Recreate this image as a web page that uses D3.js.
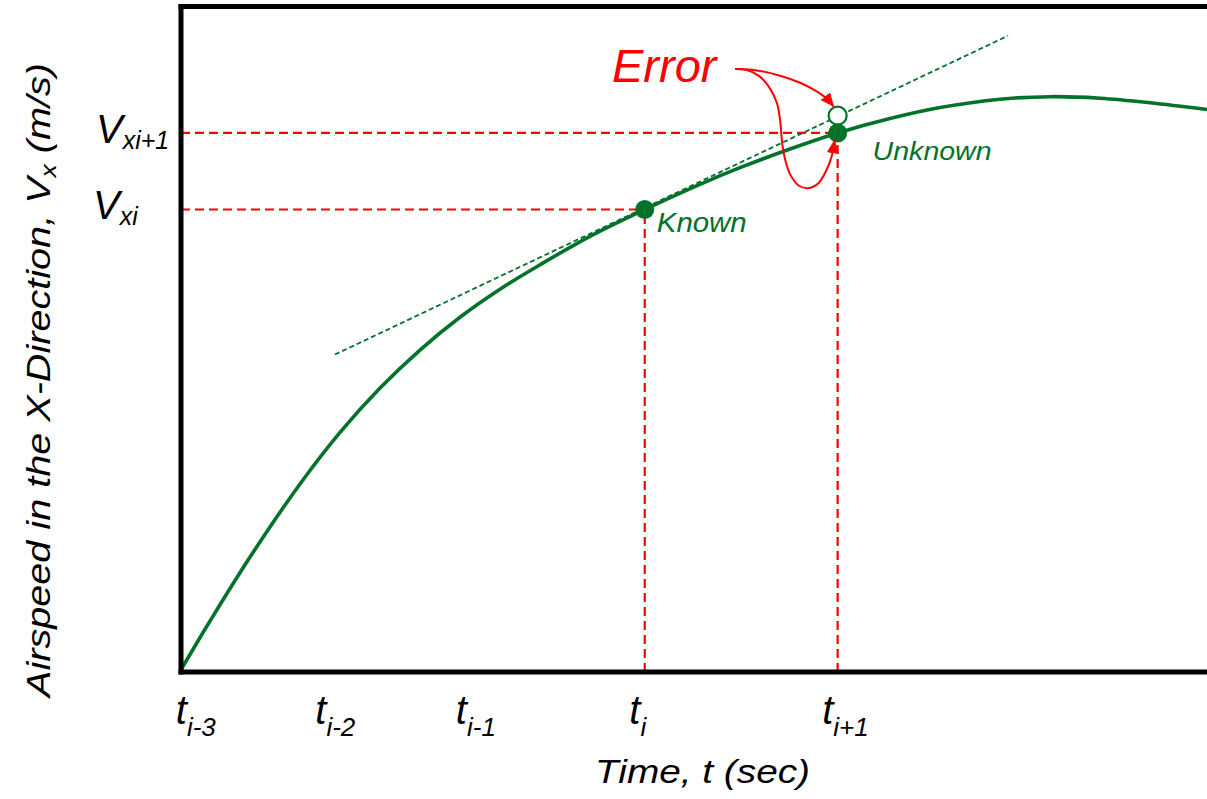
<!DOCTYPE html>
<html>
<head>
<meta charset="utf-8">
<script src="https://cdn.jsdelivr.net/npm/d3@7"></script>
<style>
  html, body { margin: 0; padding: 0; background: #fff; }
  svg { display: block; }
  text { font-family: "Liberation Sans", Arial, sans-serif; font-style: italic; }
</style>
</head>
<body>
<svg id="chart" width="1207" height="799"></svg>
<script>
// Airspeed curve V_x(t) (arbitrary units: time 0-100, speed 0-100)
const curveT = [0.1, 2.83, 6.73, 11.6, 15.5, 19.4, 23.29, 27.19, 31.09, 34.99, 39.86, 45.2,
                50.58, 54.48, 59.36, 64.0, 69.1, 73.98, 79.82, 84.7, 89.57, 94.44, 100];
const curveV = [0.6, 7.66, 17.28, 28.25, 36.0, 42.67, 48.38, 53.31, 57.52, 61.19, 65.47, 69.5,
                73.28, 75.78, 78.59, 81.0, 83.16, 84.81, 86.07, 86.45, 86.22, 85.54, 84.52];

// Time steps on the horizontal axis
const tickT = [1.0, 14.6, 28.3, 45.2, 64.0];
const tickSub = ["i-3", "i-2", "i-1", "i", "i+1"];

// Known point, exact unknown point, and the Euler prediction
const knownPt = {t: 45.2, v: 69.5};
const unknownPt = {t: 64.0, v: 81.0};
const predictedPt = {t: 64.0, v: 83.6};

// Tangent through the known point
const tangentT = [15.0, 80.6];
const tangentV = [47.7, 95.6];

// "Error" callout arrows
const arrowTopT = [54.0, 56.1, 58.4, 60.4, 62.0, 62.9, 63.6];
const arrowTopV = [90.6, 90.4, 89.6, 88.5, 87.2, 86.2, 85.0];
const arrowLowT = [54.0, 55.1, 56.4, 57.4, 58.1, 58.4, 58.6, 58.9, 59.4, 60.2, 61.1, 62.1, 62.9, 63.4, 63.7];
const arrowLowV = [90.6, 90.5, 89.5, 87.7, 85.4, 82.8, 79.4, 76.9, 74.7, 73.1, 72.7, 73.4, 75.4, 77.4, 79.9];

const GREEN = "#007229";
const RED = "#ff0000";

const svg = d3.select("#chart");
const plotLeft = 181, plotTop = 6.5, plotBottom = 672, plotRight = 1207;

const x = d3.scaleLinear().domain([0, 100]).range([plotLeft, plotRight]);
const y = d3.scaleLinear().domain([0, 100]).range([plotBottom, plotTop]);

const zip = (a, b) => a.map((d, i) => [d, b[i]]);

// Arrowhead marker
svg.append("defs").append("marker")
  .attr("id", "arrowhead")
  .attr("viewBox", "0 0 14 12")
  .attr("refX", 13).attr("refY", 6)
  .attr("markerWidth", 14).attr("markerHeight", 12)
  .attr("markerUnits", "userSpaceOnUse")
  .attr("orient", "auto")
  .append("path")
  .attr("d", "M0,0 L14,6 L0,12 Z")
  .attr("fill", RED);

// Red guide lines from the axes to the two points
const guides = svg.append("g")
  .attr("stroke", RED).attr("stroke-width", 2.2)
  .attr("stroke-dasharray", "9,5").attr("fill", "none");

guides.append("line")
  .attr("x1", x(0)).attr("x2", x(unknownPt.t) - 8)
  .attr("y1", y(unknownPt.v)).attr("y2", y(unknownPt.v));
guides.append("line")
  .attr("x1", x(0)).attr("x2", x(knownPt.t))
  .attr("y1", y(knownPt.v)).attr("y2", y(knownPt.v));
guides.append("line")
  .attr("x1", x(knownPt.t)).attr("x2", x(knownPt.t))
  .attr("y1", y(0)).attr("y2", y(knownPt.v));
guides.append("line")
  .attr("x1", x(unknownPt.t)).attr("x2", x(unknownPt.t))
  .attr("y1", y(0)).attr("y2", y(unknownPt.v));

// Tangent line (Euler step)
svg.append("path")
  .datum(zip(tangentT, tangentV))
  .attr("fill", "none")
  .attr("stroke", GREEN)
  .attr("stroke-width", 1.8)
  .attr("stroke-dasharray", "5,3")
  .attr("d", d3.line().x(d => x(d[0])).y(d => y(d[1])));

// Airspeed curve
svg.append("path")
  .datum(zip(curveT, curveV))
  .attr("fill", "none")
  .attr("stroke", GREEN)
  .attr("stroke-width", 3.6)
  .attr("d", d3.line().curve(d3.curveCatmullRom.alpha(0.5)).x(d => x(d[0])).y(d => y(d[1])));

// Axes (left and bottom) plus the top border
const xAxis = svg.append("g")
  .attr("transform", `translate(0,${plotBottom})`)
  .call(d3.axisBottom(x).tickValues(tickT).tickSize(0).tickFormat("").tickSizeOuter(0));
xAxis.select(".domain").attr("stroke", "#000").attr("stroke-width", 5)
  .attr("d", `M${plotLeft - 2.5},0H${plotRight + 5}`);

const yAxis = svg.append("g")
  .attr("transform", `translate(${plotLeft},0)`)
  .call(d3.axisLeft(y).tickValues([]).tickSizeOuter(0));
yAxis.select(".domain").attr("stroke", "#000").attr("stroke-width", 5)
  .attr("d", `M0,${plotBottom + 2.5}V${plotTop - 2.5}`);

svg.append("line")
  .attr("x1", plotLeft - 2.5).attr("x2", plotRight + 5)
  .attr("y1", y(100)).attr("y2", y(100))
  .attr("stroke", "#000").attr("stroke-width", 5);

// Tick labels t_i
xAxis.selectAll(".tick").each(function(d, i) {
  const t = d3.select(this).append("text")
    .attr("x", -16).attr("y", 52)
    .attr("text-anchor", "start")
    .attr("fill", "#000")
    .attr("font-size", 40);
  t.append("tspan").text("t");
  t.append("tspan").attr("font-size", 26).attr("dy", 12).text(tickSub[i]);
});

// Points
svg.append("circle")
  .attr("cx", x(predictedPt.t)).attr("cy", y(predictedPt.v)).attr("r", 9)
  .attr("fill", "#fff").attr("stroke", GREEN).attr("stroke-width", 2.2);
svg.selectAll("circle.pt")
  .data([knownPt, unknownPt])
  .join("circle")
  .attr("class", "pt")
  .attr("cx", d => x(d.t)).attr("cy", d => y(d.v)).attr("r", 9.5)
  .attr("fill", GREEN);

// Error callout arrows
const arrowLine = d3.line().curve(d3.curveCatmullRom).x(d => x(d[0])).y(d => y(d[1]));
svg.selectAll("path.arrow")
  .data([zip(arrowTopT, arrowTopV), zip(arrowLowT, arrowLowV)])
  .join("path")
  .attr("class", "arrow")
  .attr("fill", "none")
  .attr("stroke", RED)
  .attr("stroke-width", 2)
  .attr("marker-end", "url(#arrowhead)")
  .attr("d", arrowLine);

svg.append("text")
  .attr("x", 612).attr("y", 82)
  .attr("font-size", 47).attr("fill", RED)
  .text("Error");

// Point labels
svg.append("text")
  .attr("x", x(knownPt.t) + 12).attr("y", y(knownPt.v) + 23)
  .attr("font-size", 27).attr("fill", GREEN)
  .attr("textLength", 90).attr("lengthAdjust", "spacingAndGlyphs")
  .text("Known");
svg.append("text")
  .attr("x", x(unknownPt.t) + 35).attr("y", y(unknownPt.v) + 27)
  .attr("font-size", 26).attr("fill", GREEN)
  .attr("textLength", 119).attr("lengthAdjust", "spacingAndGlyphs")
  .text("Unknown");

// V labels on the left axis
const vLabels = [
  {v: unknownPt.v, sub: "xi+1", x: 96},
  {v: knownPt.v, sub: "xi", x: 93}
];
vLabels.forEach(d => {
  const t = svg.append("text")
    .attr("x", d.x).attr("y", y(d.v) + 10)
    .attr("font-size", 40).attr("fill", "#000");
  t.append("tspan").text("V");
  t.append("tspan").attr("font-size", 25).attr("dy", 6).text(d.sub);
});

// Axis titles
svg.append("text")
  .attr("x", 595).attr("y", 783)
  .attr("font-size", 33).attr("fill", "#000")
  .attr("textLength", 215).attr("lengthAdjust", "spacingAndGlyphs")
  .text("Time, t (sec)");

const yt = svg.append("text")
  .attr("transform", "translate(50,697) rotate(-90)")
  .attr("font-size", 33).attr("fill", "#000")
  .attr("textLength", 634).attr("lengthAdjust", "spacingAndGlyphs");
yt.append("tspan").text("Airspeed in the X-Direction, V");
yt.append("tspan").attr("font-size", 22).attr("dy", 6).text("x");
yt.append("tspan").attr("dy", -6).text(" (m/s)");
</script>
</body>
</html>
